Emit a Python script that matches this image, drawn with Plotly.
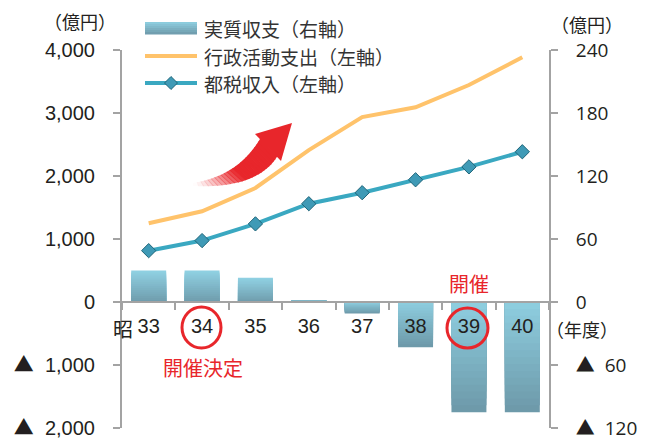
import plotly.graph_objects as go

# ---- data ----
years = ["33", "34", "35", "36", "37", "38", "39", "40"]
jisshitsu_shushi = [30, 30, 23, 2, -11, -43, -105, -105]        # 実質収支（右軸, 億円）
gyosei_shishutsu = [1250, 1440, 1810, 2410, 2935, 3090, 3445, 3885]  # 行政活動支出（左軸）
tozei_shunyu = [815, 975, 1240, 1560, 1735, 1940, 2145, 2385]      # 都税収入（左軸）

TRI = "<span style='font-family:Noto Sans CJK JP'>▲</span>  "
left_tickvals = [-2000, -1000, 0, 1000, 2000, 3000, 4000]
left_ticktext = [TRI + "2,000", TRI + "1,000", "0", "1,000", "2,000", "3,000", "4,000"]
right_tickvals = [-120, -60, 0, 60, 120, 180, 240]
right_ticktext = [TRI + "120", TRI + "60", "0", "60", "120", "180", "240"]

W, H = 647, 438
ML, MR, MT, MB = 122, 98, 50, 10
PW, PH = W - ML - MR, H - MT - MB


def px(x):
    return (x - ML) / PW


def py(y):
    return (H - MB - y) / PH


LIGHT = (143, 208, 226)
DARK = (110, 154, 170)


def mix(f):
    return "rgb(%d,%d,%d)" % tuple(round(LIGHT[i] + (DARK[i] - LIGHT[i]) * f) for i in range(3))


JP = "Noto Sans CJK JP"
NUM = "Liberation Sans"
TXT = "#231f20"
AX = "#a3a3a3"
RED = "#e8262b"

fig = go.Figure()

# gradient bars: nested bars from zero, largest first (no seams)
N = 16
for k in range(N):
    frac = 1 - k / N          # this layer covers [0, v*frac]
    heights, cols = [], []
    for v in jisshitsu_shushi:
        heights.append(v * frac)
        f = 1 - frac if v > 0 else frac
        cols.append(mix(f))
    fig.add_trace(go.Bar(x=years, y=heights, marker=dict(color=cols, line=dict(width=0)),
                         yaxis="y", showlegend=False, hoverinfo="skip"))

fig.add_trace(go.Scatter(x=years, y=gyosei_shishutsu, mode="lines", yaxis="y2",
                         line=dict(color="#ffc36b", width=4), showlegend=False))
fig.add_trace(go.Scatter(x=years, y=tozei_shunyu, mode="lines+markers", yaxis="y2",
                         line=dict(color="#3aa8c1", width=4),
                         marker=dict(symbol="diamond", size=11, color="#3f9ab6",
                                     line=dict(color="#1f6579", width=1)),
                         showlegend=False))

shapes = []
annotations = []

# legend
lx0, lx1 = 145, 197
slices = 6
for i in range(slices):
    y0 = 22 + i * 12 / slices
    y1 = 22 + (i + 1) * 12 / slices + 0.4
    shapes.append(dict(type="rect", xref="paper", yref="paper", x0=px(lx0), x1=px(lx1),
                       y0=py(y1), y1=py(y0), fillcolor=mix((i + 0.5) / slices), line=dict(width=0)))
shapes.append(dict(type="line", xref="paper", yref="paper", x0=px(lx0), x1=px(lx1),
                   y0=py(56), y1=py(56), line=dict(color="#ffc36b", width=4)))
shapes.append(dict(type="line", xref="paper", yref="paper", x0=px(lx0), x1=px(lx1),
                   y0=py(83), y1=py(83), line=dict(color="#3aa8c1", width=4)))
cx, cy, r = 171, 83, 6.5
shapes.append(dict(type="path", xref="paper", yref="paper",
                   path="M %f,%f L %f,%f L %f,%f L %f,%f Z" % (px(cx - r), py(cy), px(cx), py(cy - r),
                                                               px(cx + r), py(cy), px(cx), py(cy + r)),
                   fillcolor="#3f9ab6", line=dict(color="#1f6579", width=1)))
for label, yy in [("実質収支（右軸）", 28), ("行政活動支出（左軸）", 56), ("都税収入（左軸）", 83)]:
    annotations.append(dict(text=label, xref="paper", yref="paper", x=px(202), y=py(yy),
                            xanchor="left", yanchor="middle", showarrow=False,
                            font=dict(family=JP, size=19, color="#333333")))

# axis unit labels
annotations.append(dict(text="（億円）", xref="paper", yref="paper", x=px(80), y=py(21),
                        xanchor="center", yanchor="middle", showarrow=False,
                        font=dict(family=JP, size=18, color=TXT)))
annotations.append(dict(text="（億円）", xref="paper", yref="paper", x=px(587), y=py(24),
                        xanchor="center", yanchor="middle", showarrow=False,
                        font=dict(family=JP, size=18, color=TXT)))
annotations.append(dict(text="昭", xref="paper", yref="paper", x=px(123), y=py(328),
                        xanchor="center", yanchor="middle", showarrow=False,
                        font=dict(family=JP, size=20, color=TXT)))
annotations.append(dict(text="（年度）", xref="paper", yref="paper", x=px(582), y=py(329),
                        xanchor="center", yanchor="middle", showarrow=False,
                        font=dict(family=JP, size=18, color=TXT)))

# red notes
annotations.append(dict(text="開催決定", xref="paper", yref="paper", x=px(203), y=py(367),
                        xanchor="center", yanchor="middle", showarrow=False,
                        font=dict(family=JP, size=20, color=RED)))
annotations.append(dict(text="開催", xref="paper", yref="paper", x=px(469), y=py(283),
                        xanchor="center", yanchor="middle", showarrow=False,
                        font=dict(family=JP, size=20, color=RED)))
for (x0, x1, y0, y1) in [(182, 221, 307, 348), (447, 488, 308, 348)]:
    shapes.append(dict(type="circle", xref="paper", yref="paper", x0=px(x0), x1=px(x1),
                       y0=py(y1), y1=py(y0), line=dict(color=RED, width=3)))


# red curved arrow with fading tail
def bez(p0, p1, p2, t):
    return ((1 - t) ** 2 * p0[0] + 2 * (1 - t) * t * p1[0] + t * t * p2[0],
            (1 - t) ** 2 * p0[1] + 2 * (1 - t) * t * p1[1] + t * t * p2[1])


U = [(193, 183), (238, 176), (260, 139)]
L = [(193, 186), (256, 189), (277, 157)]
S = 24
for i in range(S):
    t0, t1 = i / S, (i + 1) / S
    a = min(1.0, ((t0 + t1) / 2) / 0.5) ** 1.3
    pts = [bez(*U, t0), bez(*U, t1 + 0.01), bez(*L, t1 + 0.01), bez(*L, t0)]
    path = "M " + " L ".join("%f,%f" % (px(x), py(y)) for x, y in pts) + " Z"
    shapes.append(dict(type="path", xref="paper", yref="paper", path=path,
                       fillcolor=RED, opacity=a, line=dict(width=0)))
head = [(255, 134), (292, 123), (281, 161)]
shapes.append(dict(type="path", xref="paper", yref="paper",
                   path="M " + " L ".join("%f,%f" % (px(x), py(y)) for x, y in head) + " Z",
                   fillcolor=RED, line=dict(width=0)))

fig.update_layout(
    width=W, height=H,
    margin=dict(l=ML, r=MR, t=MT, b=MB, autoexpand=False),
    paper_bgcolor="white", plot_bgcolor="white",
    barmode="overlay", bargap=0.345,
    shapes=shapes, annotations=annotations,
    xaxis=dict(type="category", categoryorder="array", categoryarray=years,
               range=[-0.5, 7.5], anchor="free", position=py(302), automargin=False,
               showline=True, linecolor=AX, linewidth=2,
               ticks="outside", tickson="boundaries", ticklen=7, tickwidth=2, tickcolor=AX,
               ticklabelstandoff=6,
               tickfont=dict(family=NUM, size=20, color=TXT), showgrid=False, zeroline=False),
    yaxis=dict(side="right", range=[-120, 240], tickvals=right_tickvals, ticktext=right_ticktext,
               automargin=False,
               showline=True, linecolor=AX, linewidth=2, ticks="outside", ticklen=7, tickwidth=2,
               tickcolor=AX, tickfont=dict(family="Open Sans", size=19, color=TXT),
               ticklabelstandoff=14, ticklabeloverflow="allow", showgrid=False, zeroline=False),
    yaxis2=dict(side="left", overlaying="y", range=[-2000, 4000], tickvals=left_tickvals,
                automargin=False,
                ticktext=left_ticktext, showline=True, linecolor=AX, linewidth=2, ticks="outside",
                ticklen=7, tickwidth=2, tickcolor=AX, tickfont=dict(family=NUM, size=20, color=TXT),
                ticklabelstandoff=14, ticklabeloverflow="allow", showgrid=False, zeroline=False),
)

fig.write_html("out.html")
